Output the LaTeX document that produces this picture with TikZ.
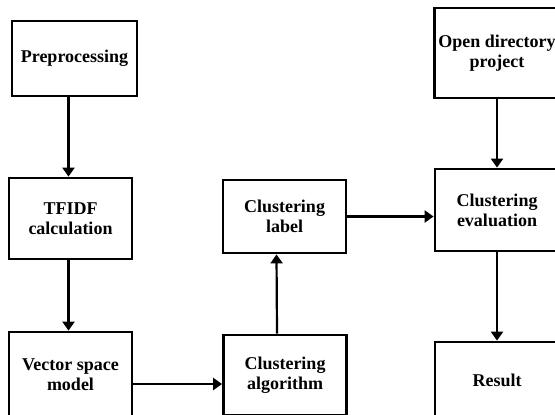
\documentclass[tikz,border=0pt]{standalone}
\usepackage{fontspec}
\setmainfont{Liberation Serif}
\usetikzlibrary{arrows.meta,positioning}

\begin{document}
\begin{tikzpicture}[x=0.5pt, y=-0.5pt, >={Triangle[length=4.5pt,width=6pt]},
  every node/.style={draw, line width=1.4pt, rectangle, minimum width=61.5pt, minimum height=40pt, inner sep=2pt, align=center, font=\fontsize{9}{10}\selectfont\bfseries}]

\useasboundingbox (0,0) rectangle (555,414);
\clip (0,0) rectangle (555,414);

% Left column
\node[minimum width=62.5pt, minimum height=37.5pt] (pre) at (74.5,58.5) {Preprocessing};
\node[minimum height=40.5pt] (tfidf) at (70.5,218.5) {TFIDF\\calculation};
\node[minimum height=43pt] (vsm) at (70.5,375) {Vector space\\model};

% Middle column
\node[minimum height=36.5pt] (label) at (284.5,216.5) {Clustering\\label};
\node[minimum height=40pt] (algo) at (285,375) {Clustering\\algorithm};

% Right column
\node[minimum width=62pt, minimum height=45pt] (odp) at (497,53) {Open directory\\project};
\node[minimum width=62pt, minimum height=41pt] (eval) at (497,210) {Clustering\\evaluation};
\node[minimum width=62pt, minimum height=38pt] (result) at (497,380) {Result};

% Connections
\draw[->, line width=1.1pt] ([xshift=-3pt]pre.south) -- ([xshift=-3pt]pre.south |- tfidf.north);
\draw[->, line width=1.1pt] ([xshift=-1pt]tfidf.south) -- ([xshift=-1pt]vsm.north);
\draw[->, line width=1.1pt] ([yshift=-4.5pt]vsm.east) -- ([yshift=-4.5pt]vsm.east -| algo.west);
\draw[->, line width=1.1pt] ([xshift=-4pt]algo.north) -- ([xshift=-4pt]label.south);
\draw[->, line width=1.1pt] (label.east) -- (label.east -| eval.west);
\draw[->, line width=1.1pt] (odp) -- (eval);
\draw[->, line width=1.1pt] (eval) -- (result);

\end{tikzpicture}
\end{document}
